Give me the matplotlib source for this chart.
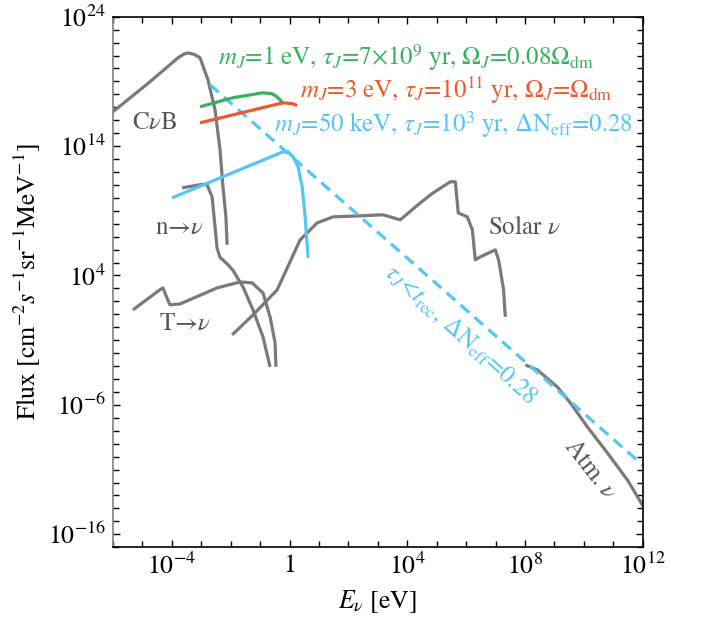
import matplotlib
matplotlib.use("Agg")
import matplotlib.pyplot as plt
import numpy as np

plt.rcParams['font.family'] = ['STIXGeneral', 'DejaVu Serif']
plt.rcParams['mathtext.fontset'] = 'stix'

GRAY = '#7a7a7a'
TXT = '#555555'
GREEN = '#3bb060'
RED = '#ec5a2c'
CYAN = '#55c5f5'

# log10(E/eV), log10(flux)
cnb_x = [-6.0, -4.74, -3.8, -3.6, -3.45, -3.25, -3.04, -2.77, -2.53, -2.36, -2.26, -2.16, -2.12]
cnb_y = [16.65, 18.97, 20.8, 21.1, 21.2, 21.1, 20.83, 19.13, 16.81, 13.71, 10.85, 8.53, 6.37]

n_x = [-3.65, -2.95, -2.80, -2.63, -2.53, -2.46, -2.36, -2.12, -1.92, -1.58, -1.24, -0.90, -0.66]
n_y = [10.77, 11.05, 11.01, 10.08, 7.76, 6.1, 5.4, 4.9, 4.4, 3.12, 1.34, -0.75, -3.07]

t_x = [-5.32, -4.40, -4.30, -4.15, -4.06, -3.72, -2.46, -1.68, -1.27, -0.90, -0.66, -0.49, -0.46]
t_y = [1.34, 2.9, 3.04, 2.2, 1.73, 1.8, 3.04, 3.50, 3.43, 2.65, 0.80, -1.21, -3.07]

sol_x = [-1.95, -1.24, -0.42, 0.36, 0.94, 1.48, 2.40, 3.18, 3.76, 4.44, 4.88, 5.46, 5.63,
         5.70, 5.73, 6.04, 6.21, 6.31, 6.48, 6.99, 7.10, 7.16, 7.27, 7.33]
sol_y = [-0.59, 0.95, 2.89, 6.75, 8.07, 8.53, 8.61, 8.69, 8.30, 9.61, 10.39, 11.24, 11.24,
         9.61, 8.84, 8.53, 7.53, 5.21, 5.44, 5.98, 5.21, 4.43, 2.89, 0.80]

atm_x = [8.01, 8.42, 9.10, 9.54, 10.12, 10.80, 11.48, 12.03]
atm_y = [-2.91, -3.30, -4.62, -5.85, -7.71, -9.72, -11.81, -13.90]

g_x = [-3.04, -1.92, -0.90, -0.59, -0.45, -0.32, -0.22]
g_y = [17.04, 17.74, 18.12, 18.04, 17.85, 17.58, 17.27]

r_x = [-3.04, -0.22, 0.12, 0.26]
r_y = [15.80, 17.35, 17.27, 17.12]

c_x = [-3.99, -0.22, -0.05, 0.12, 0.29, 0.43, 0.53, 0.63]
c_y = [10.0, 13.56, 13.56, 13.17, 12.40, 10.85, 8.53, 5.36]

dash_x = [-2.70, 12.0]
dash_y = [18.74, -10.66]

def p(ax, xs, ys, **kw):
    ax.plot(10.0 ** np.array(xs), 10.0 ** np.array(ys), solid_capstyle='butt',
            solid_joinstyle='round', **kw)

fig = plt.figure(figsize=(7.01, 6.19), dpi=100)
ax = fig.add_axes([0.161, 0.116, 0.756, 0.857])

lw = 2.3
p(ax, cnb_x, cnb_y, color=GRAY, lw=lw)
p(ax, n_x, n_y, color=GRAY, lw=lw)
p(ax, t_x, t_y, color=GRAY, lw=lw)
p(ax, sol_x, sol_y, color=GRAY, lw=lw)
p(ax, atm_x, atm_y, color=GRAY, lw=lw)
p(ax, dash_x, dash_y, color=CYAN, lw=2.3, ls=(0, (3.6, 2.2)))
p(ax, g_x, g_y, color=GREEN, lw=lw)
p(ax, r_x, r_y, color=RED, lw=lw)
p(ax, c_x, c_y, color=CYAN, lw=lw)

ax.set_xscale('log')
ax.set_yscale('log')
ax.set_xlim(1e-6, 1e12)
ax.set_ylim(1e-17, 1e24)

xt = [-4, 0, 4, 8, 12]
yt = [-16, -6, 4, 14, 24]
ax.set_xticks([10.0 ** k for k in xt])
ax.set_xticklabels(['$10^{%d}$' % k if k != 0 else '$1$' for k in xt])
ax.set_yticks([10.0 ** k for k in yt])
ax.set_yticklabels(['$10^{%d}$' % k for k in yt])
ax.set_xticks([10.0 ** k for k in range(-6, 13)], minor=True)
ax.set_yticks([10.0 ** k for k in range(-17, 25)], minor=True)
ax.xaxis.set_minor_formatter(matplotlib.ticker.NullFormatter())
ax.yaxis.set_minor_formatter(matplotlib.ticker.NullFormatter())
ax.tick_params(which='both', direction='in', top=True, right=True, labelsize=18.5, width=1)
ax.tick_params(which='major', length=5, pad=5)
ax.tick_params(which='minor', length=4)
ax.spines['left'].set_color('#808080')
for s in ['left', 'right', 'top', 'bottom']:
    ax.spines[s].set_linewidth(1.2)

ax.set_xlabel(r'$E_\nu$ [eV]', fontsize=18.5, labelpad=6)
ax.set_ylabel(r'Flux [cm$^{-2}$$s^{-1}$sr$^{-1}$MeV$^{-1}$]', fontsize=18.5, labelpad=4)

fs = 18
tr = ax.transAxes
ax.text(0.079, 0.80, r'C$\nu$B', color=TXT, fontsize=fs, ha='center', va='center', transform=tr)
ax.text(0.126, 0.602, r'n→$\nu$', color=TXT, fontsize=fs, ha='center', va='center', transform=tr)
ax.text(0.136, 0.421, r'T→$\nu$', color=TXT, fontsize=fs, ha='center', va='center', transform=tr)
ax.text(0.777, 0.602, r'Solar $\nu$', color=TXT, fontsize=fs, ha='center', va='center', transform=tr)
ax.text(0.90, 0.145, r'Atm. $\nu$', color=TXT, fontsize=fs, ha='center', va='center',
        rotation=-52, rotation_mode='anchor', transform=tr)

ax.text(0.198, 0.923, r'$m_J$=1 eV, $\tau_J$=7$\times$10$^9$ yr, $\Omega_J$=0.08$\Omega_{\rm dm}$',
        color=GREEN, fontsize=fs, ha='left', va='center', transform=tr)
ax.text(0.353, 0.862, r'$m_J$=3 eV, $\tau_J$=10$^{11}$ yr, $\Omega_J$=$\Omega_{\rm dm}$',
        color=RED, fontsize=fs, ha='left', va='center', transform=tr)
ax.text(0.304, 0.796, r'$m_J$=50 keV, $\tau_J$=10$^3$ yr, $\Delta$N$_{\rm eff}$=0.28',
        color=CYAN, fontsize=fs, ha='left', va='center', transform=tr)
ax.text(0.655, 0.40, r'$\tau_J$<$t_{\rm rec}$, $\Delta$N$_{\rm eff}$=0.28',
        color=CYAN, fontsize=fs, ha='center', va='center', rotation=-42, rotation_mode='anchor',
        transform=tr)

fig.savefig('out.png', dpi=100)
